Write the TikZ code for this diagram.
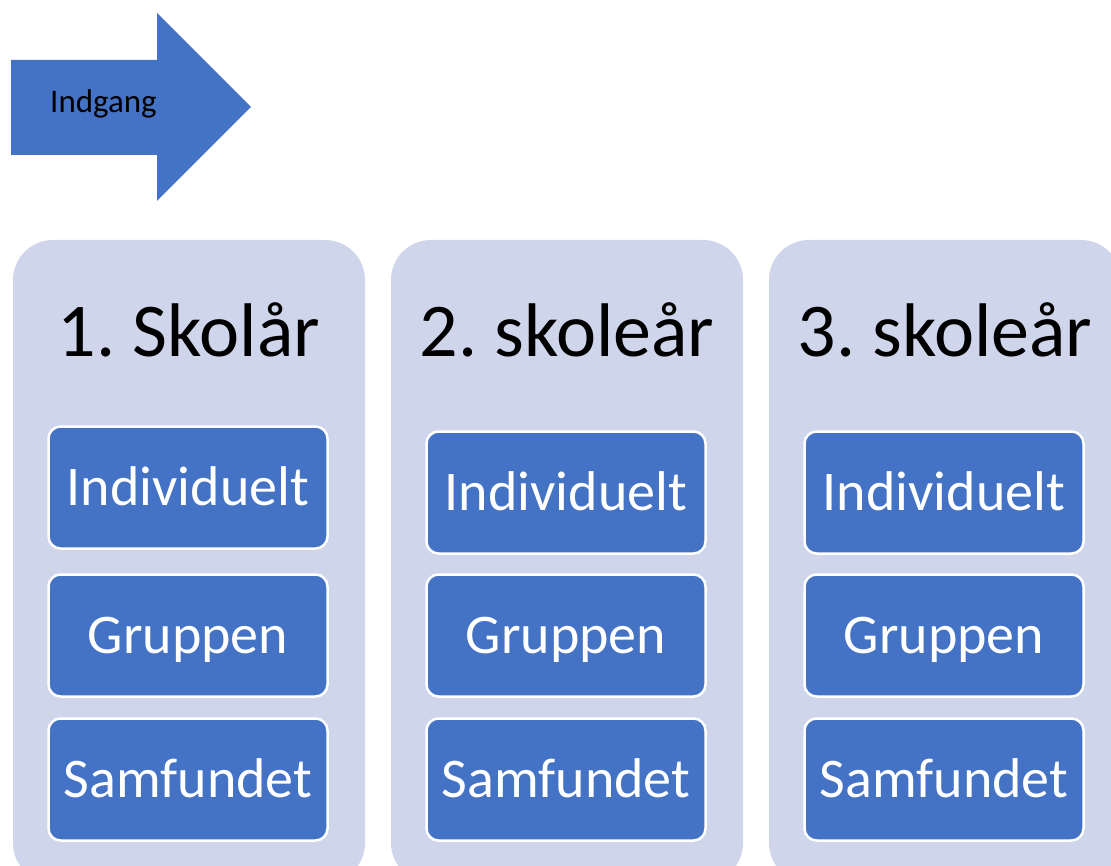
\documentclass[tikz,border=0pt]{standalone}
\usepackage{fontspec}
\setmainfont{Carlito}
\usepackage{tikz}
\usepackage{color}
\definecolor{azul}{HTML}{4472C4}
\definecolor{lila}{HTML}{CFD5EA}
\frenchspacing

\begin{document}
\begin{tikzpicture}[x=1pt,y=-1pt,
  panel/.style={fill=lila, rounded corners=40pt, minimum width=352pt,
    minimum height=643pt, inner sep=0pt},
  felt/.style={fill=azul, draw=white, line width=2.5pt, rounded corners=12pt,
    minimum width=279pt, minimum height=122pt, inner sep=0pt, text=white,
    font=\fontsize{56}{60}\selectfont, text height=36pt, text depth=0pt},
  titel/.style={anchor=base, font=\fontsize{76}{80}\selectfont}]
  \useasboundingbox (0,0) rectangle (1111,866);
  \clip (0,0) rectangle (1111,866);
  % Pil
  \fill[azul] (11,60) -- (157,60) -- (157,13) -- (251,107) -- (157,201)
    -- (157,155) -- (11,155) -- cycle;
  \node[anchor=base west, inner sep=0pt, font=\fontsize{33}{36}\selectfont] (indgang) at (50,113) {Indgang};
  % Kolonner
  \foreach \i/\x/\t/\yi in {1/189/{1. Skolår}/487.5, 2/567/{2. skoleår}/492.5,
      3/945/{3. skoleår}/492.5} {
    \node[panel] (panel\i) at (\x,561.5) {};
    \node[titel] (titel\i) at (\x,357) {\t};
    \node[felt] (ind\i) at (\x-1,\yi) {Individuelt};
    \node[felt] (grp\i) at (\x-1,635.5) {Gruppen};
    \node[felt] (sam\i) at (\x-1,779.5) {Samfundet};
  }
\end{tikzpicture}
\end{document}
